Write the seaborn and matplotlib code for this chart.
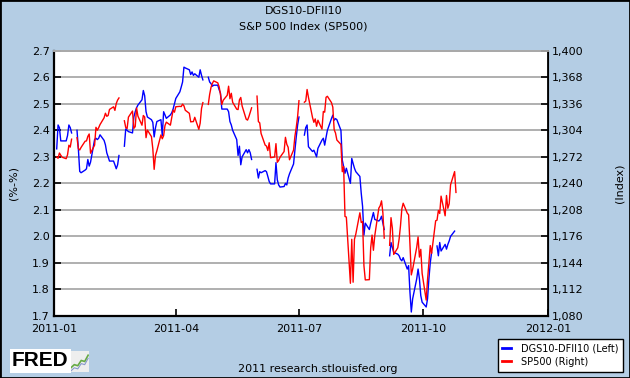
import pandas as pd
import numpy as np
import seaborn as sns
import matplotlib
matplotlib.use("Agg")
import matplotlib.pyplot as plt
import matplotlib.dates as mdates
import matplotlib.ticker as mticker
from matplotlib.lines import Line2D
from matplotlib.patches import Rectangle

# business days shown on the chart (holidays kept as None -> gaps)
dates = pd.bdate_range("2011-01-03", "2011-10-25")

# DGS10-DFII10 (left axis)
breakeven = [
    2.33, 2.42, 2.41, 2.36, 2.36, 2.36, 2.38, 2.42, 2.41, 2.39, None, 2.40, 2.33, 2.245, 2.24, 2.25, 2.255, 2.29, 2.265, 2.28, 2.365,
    2.37, 2.365, 2.37, 2.383, 2.362, 2.345, 2.315, 2.30, 2.284, 2.284, 2.27, 2.255, 2.27, 2.305, None, 2.34, 2.405, 2.40, 2.395, 2.39,
    2.45, 2.47, 2.485, 2.495, 2.515, 2.55, 2.53, 2.47, 2.45, 2.44, 2.43, 2.375, 2.41, 2.433, 2.44, 2.38, 2.47, 2.458, 2.445, 2.458, 2.466, 2.48, 2.50,
    2.52, 2.545, 2.563, 2.582, 2.638, 2.635, 2.628, 2.61, 2.62, 2.607, 2.613, 2.60, 2.628, 2.607, 2.59, None, 2.60, 2.582, 2.576, 2.566, 2.57,
    2.57, 2.553, 2.54, 2.48, 2.48, 2.48, 2.47, 2.433, 2.42, 2.40, 2.365, 2.305, 2.34, 2.27, 2.30, 2.327, 2.315, 2.327, 2.315, 2.29, None, 2.253,
    2.22, 2.244, 2.24, 2.248, 2.244, 2.226, 2.207, 2.198, 2.198, 2.278, 2.213, 2.194, 2.186, 2.188, 2.20, 2.194, 2.22, 2.236, 2.273, 2.325, 2.375, 2.42,
    2.45, None, 2.382, 2.41, 2.42, 2.338, 2.32, 2.325, 2.313, 2.30, 2.332, 2.363, 2.37, 2.344, 2.373, 2.40, 2.444, 2.457, 2.438, 2.444, 2.44,
    2.40, 2.288, 2.263, 2.238, 2.257, 2.20, 2.294, 2.275, 2.257, 2.244, 2.226, 2.163, 2.113, 2.005, 2.05, 2.026, 2.05, 2.07, 2.09, 2.064, 2.058, 2.064, 2.076,
    2.05, 2.026, None, 1.927, 1.977, 1.958, 1.94, 1.933, 1.927, 1.914, 1.908, 1.92, 1.877, 1.89, 1.79, 1.715, 1.765, 1.84, 1.877, 1.84, 1.777, 1.752,
    1.734, 1.765, 1.84, 1.90, 1.94, None, 1.964, 1.927, 1.977, 1.945, 1.97, 1.952, 1.97, 1.983, 2.0, 2.02, None,
]

# SP500 (right axis)
sp500 = [
    1271.87, 1270.20, 1276.56, 1273.85, 1271.50, 1269.75, 1274.48, 1285.96, 1283.76, 1293.24, None, 1295.02, 1281.92, 1280.26, 1283.35, 1290.84, 1291.18, 1296.63, 1299.54, 1276.34, 1286.12,
    1307.59, 1304.03, 1307.10, 1310.87, 1319.05, 1324.57, 1320.88, 1321.87, 1329.15, 1332.32, 1328.01, 1336.32, 1340.43, 1343.01, None, 1315.44, 1307.40, 1306.10, 1319.88, 1327.22,
    1306.33, 1308.44, 1330.97, 1321.15, 1310.13, 1321.82, 1320.02, 1295.11, 1304.28, 1296.39, 1281.87, 1256.88, 1273.72, 1279.21, 1298.38, 1293.77, 1297.54, 1309.66, 1313.80, 1310.19, 1319.44, 1328.26, 1325.83,
    1332.41, 1332.87, 1332.63, 1335.54, 1333.51, 1328.17, 1324.46, 1314.16, 1314.41, 1314.52, 1319.68, 1305.14, 1312.62, 1330.36, 1337.38, None, 1335.25, 1347.24, 1355.66, 1360.48, 1363.61,
    1361.22, 1356.62, 1347.32, 1335.10, 1340.20, 1346.29, 1357.16, 1342.08, 1348.65, 1337.77, 1329.47, 1328.98, 1340.68, 1343.60, 1333.27, 1317.37, 1316.28, 1320.47, 1325.69, 1331.10, None, 1345.20,
    1314.55, 1312.94, 1300.16, 1286.17, 1284.94, 1279.56, 1289.00, 1270.98, 1271.83, 1287.87, 1265.42, 1267.64, 1271.50, 1278.36, 1295.52, 1287.14, 1283.50, 1268.45, 1280.10, 1296.67, 1307.41, 1320.64,
    1339.67, None, 1337.88, 1339.22, 1353.22, 1343.80, 1319.49, 1313.64, 1317.72, 1308.87, 1316.14, 1305.44, 1326.73, 1325.84, 1343.80, 1345.02, 1337.43, 1331.94, 1304.89, 1300.67, 1292.28,
    1286.94, 1254.05, 1260.34, 1200.07, 1199.38, 1119.46, 1172.53, 1120.76, 1172.64, 1178.81, 1204.49, 1192.76, 1193.89, 1140.65, 1123.53, 1123.82, 1162.35, 1177.60, 1159.27, 1176.80, 1210.08, 1212.92, 1218.89,
    1204.42, 1173.97, None, 1165.24, 1198.62, 1185.90, 1154.23, 1162.27, 1172.87, 1188.68, 1209.11, 1216.01, 1204.09, 1202.09, 1166.76, 1129.56, 1136.43, 1162.95, 1175.38, 1151.06, 1160.40, 1131.42,
    1099.23, 1123.95, 1144.03, 1164.97, 1155.46, 1194.89, 1195.54, 1207.25, 1203.66, 1224.58, 1200.86, 1225.38, 1209.88, 1215.39, 1238.25, 1254.19, 1229.05,
]

left_ticks = [1.7, 1.8, 1.9, 2.0, 2.1, 2.2, 2.3, 2.4, 2.5, 2.6, 2.7]
right_ticks = [1080, 1112, 1144, 1176, 1208, 1240, 1272, 1304, 1336, 1368, 1400]
x_ticks = ["2011-01-01", "2011-04-01", "2011-07-01", "2011-10-01", "2012-01-01"]
logo_trend = [0.2, 0.35, 0.3, 0.55, 0.5, 0.8]

bg = "#B4CDE4"


def with_gaps(values):
    df = pd.DataFrame({"date": dates, "value": pd.array(values, dtype="Float64").astype(float)})
    df["seg"] = df["value"].isna().cumsum()
    return df.dropna()


blue_df = with_gaps(breakeven)
red_df = with_gaps(sp500)

plt.rcParams["font.family"] = ["DejaVu Sans"]

fig = plt.figure(figsize=(6.3, 3.78), dpi=100, facecolor=bg)
ax = fig.add_axes([54 / 630, 1 - 316 / 378, (548 - 54) / 630, (316 - 50.7) / 378])
ax.set_facecolor("white")
ax2 = ax.twinx()

sns.lineplot(data=blue_df, x="date", y="value", units="seg", estimator=None,
             color="#0000FF", lw=1.0, ax=ax, legend=False)
sns.lineplot(data=red_df, x="date", y="value", units="seg", estimator=None,
             color="#FF0000", lw=1.0, ax=ax2, legend=False)

ax.set_xlim(pd.Timestamp("2011-01-01"), pd.Timestamp("2012-01-01"))
ax.set_ylim(1.7, 2.7)
ax2.set_ylim(1080, 1400)
ax.set_xticks(pd.to_datetime(x_ticks))
ax.xaxis.set_major_formatter(mdates.DateFormatter("%Y-%m"))
ax.set_yticks(left_ticks)
ax.yaxis.set_major_formatter(mticker.FormatStrFormatter("%.1f"))
ax2.set_yticks(right_ticks)
ax2.yaxis.set_major_formatter(mticker.FuncFormatter(lambda v, p: f"{v:,.0f}"))

ax.grid(axis="y", color="#A9A9A9", lw=1.3)
ax.grid(axis="x", visible=False)
ax.set_axisbelow(True)

for a in (ax, ax2):
    a.tick_params(direction="in", length=5, width=1.2, labelsize=8, colors="black", pad=3)
    a.spines["top"].set_color("#A9A9A9")
    a.spines["top"].set_linewidth(1.3)
    a.set_xlabel("")
ax.spines["left"].set_linewidth(1.6)
ax.spines["bottom"].set_linewidth(1.6)
ax2.spines["right"].set_linewidth(1.3)
ax2.spines["left"].set_visible(False)
ax2.spines["bottom"].set_visible(False)
ax.tick_params(axis="x", pad=6)

ax.set_ylabel("(%-%)", fontsize=8, labelpad=10)
ax2.set_ylabel("(Index)", fontsize=8, labelpad=22)

fig.text(0.482, 0.972, "DGS10-DFII10", ha="center", va="center", fontsize=8)
fig.text(0.482, 0.93, "S&P 500 Index (SP500)", ha="center", va="center", fontsize=8)
fig.text(0.505, 0.025, "2011 research.stlouisfed.org", ha="center", va="center", fontsize=8)

# FRED logo
fig.text(0.019, 0.045, "FRED", ha="left", va="center", fontsize=15, weight="heavy",
         family="Liberation Sans",
         bbox=dict(facecolor="white", edgecolor="none", pad=1.5))
icon = fig.add_axes([70 / 630, 1 - 372 / 378, 19 / 630, 21 / 378])
icon.set_facecolor("#EEEEEE")
icon.plot(range(len(logo_trend)), logo_trend, color="#66AA44", lw=1.2)
icon.plot(range(len(logo_trend)), [v - 0.15 for v in logo_trend], color="#8899CC", lw=0.8)
icon.set_xticks([])
icon.set_yticks([])
icon.set_ylim(0, 1)
for s in icon.spines.values():
    s.set_visible(False)

handles = [Line2D([], [], color="#0000FF", lw=2), Line2D([], [], color="#FF0000", lw=2)]
leg = fig.legend(handles, ["DGS10-DFII10 (Left)", "SP500 (Right)"], loc="lower right",
                 bbox_to_anchor=(0.997, 0.004), fontsize=7, frameon=True, fancybox=False,
                 handlelength=0.9, handletextpad=1.0, borderpad=0.5, labelspacing=0.35)
leg.get_frame().set_edgecolor("black")
leg.get_frame().set_linewidth(1.0)
leg.get_frame().set_alpha(1)

fig.patches.append(Rectangle((0, 0), 1, 1, transform=fig.transFigure, fill=False,
                             edgecolor="black", lw=2))

fig.savefig("out.png", dpi=100, facecolor=bg)
